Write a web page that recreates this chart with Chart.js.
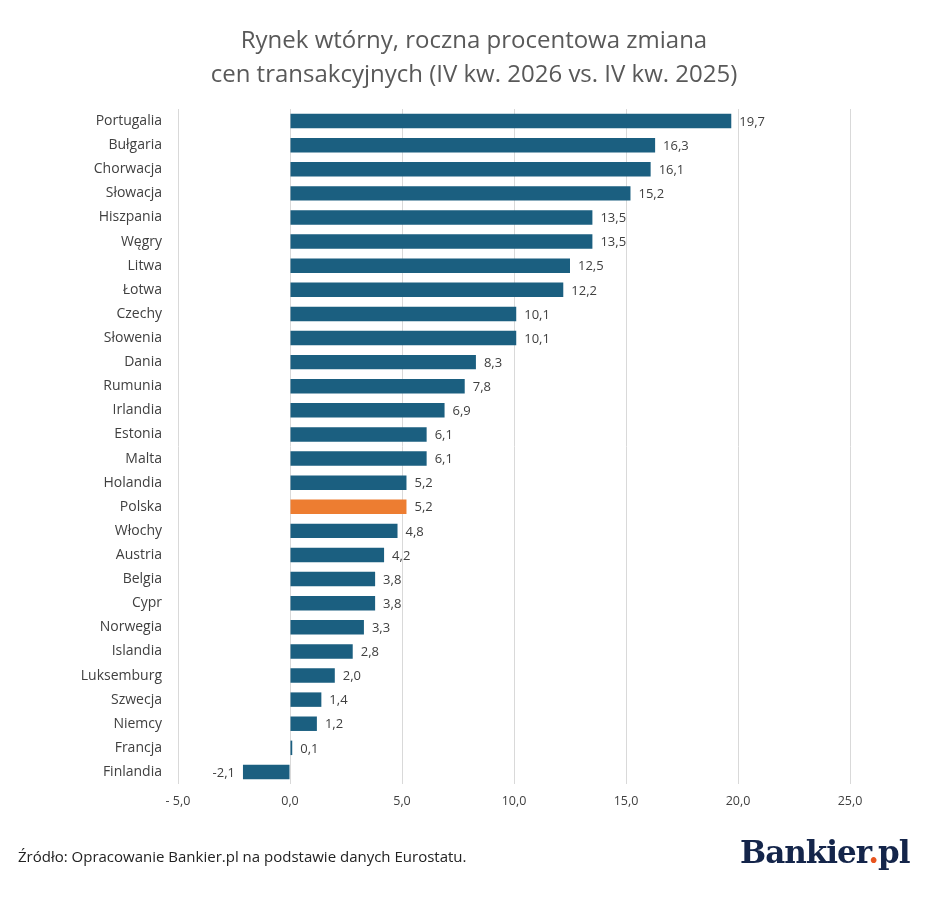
<!DOCTYPE html>
<html><head><meta charset="utf-8">
<script src="https://cdn.jsdelivr.net/npm/chart.js@4"></script>
<style>
body{margin:0;background:#fff;font-family:"Open Sans","Noto Sans",sans-serif;}
#wrap{position:relative;width:948px;height:910px;}
#title{position:absolute;top:22px;left:0;width:948px;text-align:center;font-size:24px;line-height:34px;color:#595959;}
#src{position:absolute;left:18px;top:846px;font-size:15px;color:#222;}
#logo{position:absolute;left:740px;top:834px;font-family:"DejaVu Serif","Liberation Serif",serif;font-weight:bold;font-size:31px;color:#14254a;letter-spacing:-1px;}
#logo span{color:#e8541e;}
canvas{position:absolute;left:0;top:0;}
</style></head><body>
<div id="wrap">
<canvas id="c" width="948" height="910"></canvas>
<div id="title">Rynek wtórny, roczna procentowa zmiana<br>cen transakcyjnych (IV kw. 2026 vs. IV kw. 2025)</div>
<div id="src">Źródło: Opracowanie Bankier.pl na podstawie danych Eurostatu.</div>
<div id="logo">Bankier<span>.</span>pl</div>
</div>
<script>
const countries=["Portugalia","Bułgaria","Chorwacja","Słowacja","Hiszpania","Węgry","Litwa","Łotwa","Czechy","Słowenia","Dania","Rumunia","Irlandia","Estonia","Malta","Holandia","Polska","Włochy","Austria","Belgia","Cypr","Norwegia","Islandia","Luksemburg","Szwecja","Niemcy","Francja","Finlandia"];
const values=[19.7,16.3,16.1,15.2,13.5,13.5,12.5,12.2,10.1,10.1,8.3,7.8,6.9,6.1,6.1,5.2,5.2,4.8,4.2,3.8,3.8,3.3,2.8,2.0,1.4,1.2,0.1,-2.1];
const tickLabels={"-5":"- 5,0","0":"0,0","5":"5,0","10":"10,0","15":"15,0","20":"20,0","25":"25,0"};
const highlight="Polska";
const fmt=v=>v.toFixed(1).replace('.',',');
const labelPlugin={id:'lbl',afterDatasetsDraw(ch){
  const ctx=ch.ctx;const meta=ch.getDatasetMeta(0);
  ctx.save();ctx.font='13px "Open Sans","Noto Sans",sans-serif';ctx.fillStyle='#404040';ctx.textBaseline='middle';
  meta.data.forEach((b,i)=>{const v=values[i];
    if(v>=0){ctx.textAlign='left';ctx.fillText(fmt(v),b.x+8,b.y+1);}else{ctx.textAlign='right';ctx.fillText(fmt(v),b.x-8,b.y+1);}
  });ctx.restore();}};
new Chart(document.getElementById('c'),{type:'bar',
 data:{labels:countries,datasets:[{data:values,backgroundColor:countries.map(c=>c===highlight?'#ed7d31':'#1b5f80'),barPercentage:0.6,categoryPercentage:1}]},
 options:{indexAxis:'y',responsive:false,animation:false,
  layout:{padding:{top:109,right:98,bottom:96,left:0}},
  plugins:{legend:{display:false},tooltip:{enabled:false}},
  scales:{
   x:{min:-5,max:25,ticks:{stepSize:5,padding:10,color:'#404040',font:{size:12.5,family:'"Open Sans","Noto Sans",sans-serif'},callback:v=>tickLabels[String(v)]},
      grid:{color:'#d9d9d9',drawTicks:false,lineWidth:1},border:{display:false},afterFit:s=>{s.height=30;}},
   y:{ticks:{color:'#404040',font:{size:14,family:'"Open Sans","Noto Sans",sans-serif'},padding:16},
      grid:{display:false,drawTicks:false},border:{display:false},afterFit:s=>{s.width=178;}}
  }},plugins:[labelPlugin]});
</script></body></html>
